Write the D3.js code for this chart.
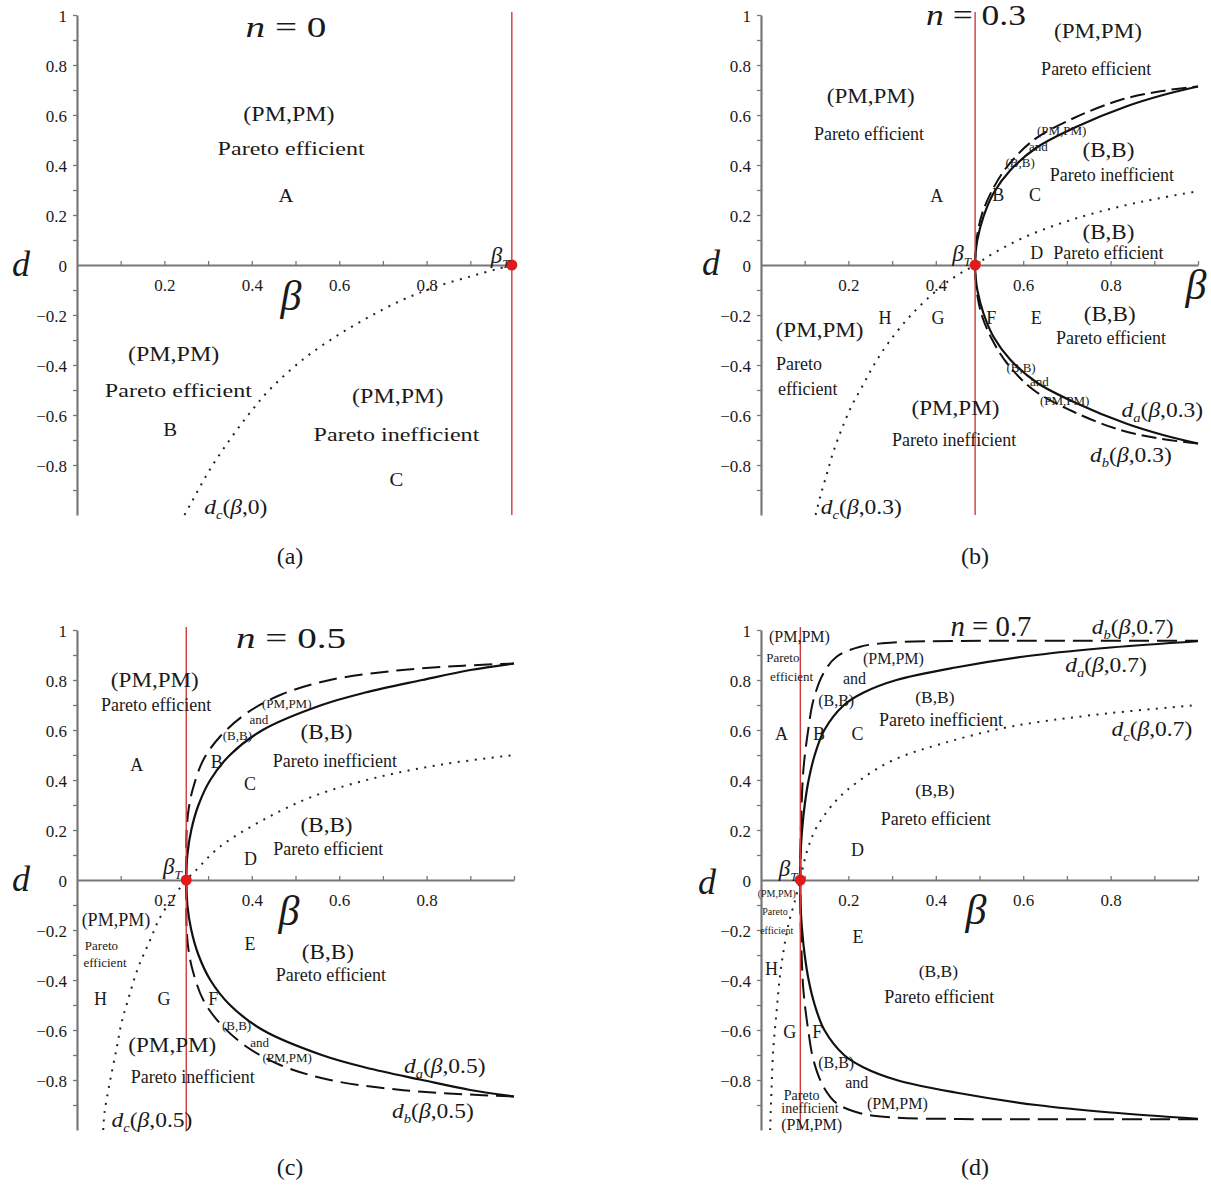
<!DOCTYPE html>
<html><head><meta charset="utf-8">
<script src="https://cdn.jsdelivr.net/npm/d3@7"></script>
<style>
body{margin:0;background:#fff;}
svg text{font-family:"Liberation Serif","Times New Roman",serif;fill:#1a1a1a;}
</style></head><body>
<svg id="chart" width="1211" height="1195"></svg>
<script>
// ---------------- data ----------------
const panelN = [0, 0.3, 0.5, 0.7];
const betaT = [0.995, 0.49, 0.25, 0.09];
const captions = ["(a)", "(b)", "(c)", "(d)"];
const xTickValues = [0.2, 0.4, 0.6, 0.8];
const xMinorTicks = [0.1, 0.2, 0.3, 0.4, 0.5, 0.6, 0.7, 0.8, 0.9, 1.0];
const yTickValues = [-0.8, -0.6, -0.4, -0.2, 0, 0.2, 0.4, 0.6, 0.8, 1];
const yMinorTicks = [-0.9, -0.8, -0.7, -0.6, -0.5, -0.4, -0.3, -0.2, -0.1, 0.1, 0.2, 0.3, 0.4, 0.5, 0.6, 0.7, 0.8, 0.9, 1.0];

// d_c(beta, 0)
const dcN0 = [[0.246,-1.0],[0.263,-0.946],[0.302,-0.824],[0.348,-0.703],[0.394,-0.595],[0.44,-0.5],[0.517,-0.378],[0.594,-0.284],[0.671,-0.205],[0.748,-0.137],[0.825,-0.085],[0.902,-0.045],[0.96,-0.017],[0.995,0]];
// n = 0.3 (upper branches of d_a, d_b; lower branches are their mirror images)
const daN03 = [[0.49,0],[0.4912,0.05],[0.495,0.1],[0.509,0.193],[0.532,0.287],[0.57,0.378],[0.631,0.47],[0.722,0.553],[0.837,0.635],[0.92,0.68],[1.0,0.714]];
const dbN03 = [[0.49,0],[0.4908,0.05],[0.494,0.11],[0.505,0.2],[0.527,0.292],[0.563,0.393],[0.624,0.5],[0.715,0.587],[0.822,0.66],[0.914,0.695],[1.0,0.714]];
const dcN03 = [[0.125,-1.0],[0.135,-0.93],[0.15,-0.84],[0.165,-0.75],[0.185,-0.655],[0.207,-0.565],[0.234,-0.478],[0.26,-0.395],[0.292,-0.31],[0.346,-0.195],[0.41,-0.09],[0.45,-0.04],[0.49,0],[0.53,0.045],[0.608,0.115],[0.722,0.187],[0.837,0.24],[0.92,0.27],[1.0,0.295]];
// n = 0.5
const daN05 = [[0.25,0],[0.2525,0.1],[0.2615,0.2],[0.278,0.3],[0.305,0.4],[0.35,0.5],[0.425,0.6],[0.56,0.7],[0.66,0.75],[0.79,0.8],[0.9,0.84],[1.0,0.866]];
const dbN05 = [[0.25,0],[0.2503,0.1],[0.251,0.2],[0.256,0.29],[0.266,0.37],[0.289,0.48],[0.327,0.573],[0.388,0.667],[0.465,0.74],[0.579,0.8],[0.732,0.838],[0.884,0.857],[1.0,0.866]];
const dcN05 = [[0.06,-1.0],[0.063,-0.93],[0.075,-0.81],[0.091,-0.67],[0.102,-0.57],[0.115,-0.49],[0.14,-0.35],[0.165,-0.25],[0.19,-0.15],[0.22,-0.07],[0.25,0],[0.27,0.035],[0.327,0.133],[0.426,0.24],[0.541,0.335],[0.693,0.413],[0.846,0.465],[1.0,0.5]];
// n = 0.7
const daN07 = [[0.09,0],[0.0905,0.1],[0.094,0.2],[0.1,0.3],[0.109,0.4],[0.123,0.5],[0.145,0.6],[0.19,0.7],[0.235,0.75],[0.31,0.8],[0.445,0.85],[0.63,0.9],[0.8,0.93],[1.0,0.955]];
const dbN07 = [[0.09,0],[0.0903,0.12],[0.092,0.25],[0.097,0.44],[0.108,0.6],[0.12,0.72],[0.143,0.827],[0.173,0.893],[0.227,0.933],[0.303,0.95],[0.455,0.956],[0.7,0.957],[1.0,0.957]];
const dcN07 = [[0.021,-1.0],[0.024,-0.84],[0.028,-0.68],[0.036,-0.52],[0.043,-0.39],[0.051,-0.29],[0.059,-0.21],[0.066,-0.155],[0.075,-0.1],[0.082,-0.055],[0.09,0],[0.097,0.06],[0.108,0.13],[0.127,0.21],[0.173,0.32],[0.227,0.4],[0.303,0.48],[0.417,0.547],[0.57,0.613],[0.76,0.66],[1.0,0.7]];

const daCurves = [null, daN03, daN05, daN07];
const dbCurves = [null, dbN03, dbN05, dbN07];
const dcCurves = [dcN0, dcN03, dcN05, dcN07];

// region annotations: text, beta, d, font size, horizontal stretch
const notesA = [
 ["(PM,PM)",0.485,0.604,20,1.2],["Pareto efficient",0.49,0.464,18.5,1.3],["A",0.478,0.278,18,1.15],
 ["(PM,PM)",0.221,-0.355,20,1.2],["Pareto efficient",0.232,-0.502,18.5,1.3],["B",0.213,-0.66,18,1.15],
 ["(PM,PM)",0.734,-0.525,20,1.2],["Pareto inefficient",0.731,-0.679,18.5,1.3],["C",0.731,-0.858,18,1.15]];
const notesB = [
 ["(PM,PM)",0.771,0.938,21,1.1],["Pareto efficient",0.767,0.786,18,1],
 ["(PM,PM)",0.251,0.678,21,1.1],["Pareto efficient",0.247,0.526,18,1],
 ["(PM,PM)",0.688,0.54,13,1],["and",0.635,0.476,13,1],["(B,B)",0.593,0.409,13,1],
 ["(B,B)",0.795,0.46,21,1.1],["Pareto inefficient",0.803,0.36,18,1],
 ["A",0.402,0.279,18,1],["B",0.543,0.28,18,1],["C",0.627,0.28,18,1],
 ["(B,B)",0.795,0.133,21,1.1],["D",0.631,0.049,18,1],["Pareto efficient",0.795,0.049,18,1],
 ["H",0.284,-0.21,18,1],["G",0.405,-0.21,18,1],["F",0.527,-0.21,18,1],["E",0.63,-0.21,18,1],
 ["(B,B)",0.798,-0.194,21,1.1],["Pareto efficient",0.801,-0.291,18,1],
 ["(PM,PM)",0.134,-0.258,21,1.1],["Pareto",0.087,-0.393,18,1],["efficient",0.107,-0.494,18,1],
 ["(B,B)",0.595,-0.409,13,1],["and",0.637,-0.464,13,1],["(PM,PM)",0.695,-0.541,13,1],
 ["(PM,PM)",0.445,-0.571,21,1.1],["Pareto inefficient",0.442,-0.7,18,1]];
const notesC = [
 ["(PM,PM)",0.178,0.803,21,1.1],["Pareto efficient",0.181,0.702,18,1],
 ["(PM,PM)",0.48,0.707,13,1],["and",0.416,0.643,13,1],["(B,B)",0.367,0.58,13,1],
 ["(B,B)",0.571,0.593,21,1.1],["Pareto inefficient",0.59,0.477,18,1],
 ["A",0.137,0.463,18,1],["B",0.32,0.473,18,1],["C",0.396,0.387,18,1],
 ["(B,B)",0.571,0.22,21,1.1],["Pareto efficient",0.575,0.127,18,1],["D",0.397,0.087,18,1],
 ["(PM,PM)",0.089,-0.16,18,1],["Pareto",0.056,-0.26,13,1],["efficient",0.064,-0.331,13,1],
 ["E",0.396,-0.254,18,1],["(B,B)",0.574,-0.287,21,1.1],["Pareto efficient",0.581,-0.38,18,1],
 ["H",0.054,-0.476,18,1],["G",0.199,-0.476,18,1],["F",0.312,-0.476,18,1],
 ["(B,B)",0.365,-0.58,13,1],["and",0.418,-0.651,13,1],["(PM,PM)",0.481,-0.708,13,1],
 ["(PM,PM)",0.218,-0.658,21,1.1],["Pareto inefficient",0.265,-0.787,18,1]];
const notesD = [
 ["(PM,PM)",0.088,0.973,16,1],["Pareto",0.05,0.891,13,1],["efficient",0.07,0.816,13,1],
 ["(PM,PM)",0.303,0.887,16,1],["and",0.214,0.807,16,1],["(B,B)",0.172,0.72,16,1],
 ["(B,B)",0.398,0.733,17.5,1],["Pareto inefficient",0.412,0.643,18,1],
 ["A",0.047,0.584,18,1],["B",0.133,0.584,18,1],["C",0.221,0.584,18,1],
 ["(B,B)",0.398,0.36,17.5,1],["Pareto efficient",0.4,0.247,18,1],["D",0.221,0.123,18,1],
 ["(PM,PM)",0.036,-0.053,10,1],["Pareto",0.032,-0.127,10,1],["efficient",0.036,-0.2,10,1],
 ["E",0.222,-0.228,18,1],["H",0.024,-0.353,18,1],
 ["(B,B)",0.406,-0.364,17.5,1],["Pareto efficient",0.408,-0.468,18,1],
 ["G",0.066,-0.607,18,1],["F",0.129,-0.607,18,1],
 ["(B,B)",0.172,-0.73,16,1],["and",0.219,-0.811,16,1],["(PM,PM)",0.312,-0.894,16,1],
 ["Pareto",0.093,-0.86,14,1],["inefficient",0.112,-0.913,14,1],["(PM,PM)",0.116,-0.976,16,1]];
const notes = [notesA, notesB, notesC, notesD];

// curve labels: subscript, n argument, beta, d (start of text)
const curveLabels = [
 [["c","0",0.291,-0.967]],
 [["a","0.3",0.825,-0.578],["b","0.3",0.753,-0.758],["c","0.3",0.137,-0.967]],
 [["a","0.5",0.748,-0.744],["b","0.5",0.721,-0.923],["c","0.5",0.079,-0.958]],
 [["b","0.7",0.757,1.012],["a","0.7",0.696,0.86],["c","0.7",0.802,0.607]]];
// beta_T label position (beta, d)
const betaTLabel = [[0.968,0.04],[0.459,0.047],[0.218,0.056],[0.062,0.047]];

// ---------------- layout ----------------
const layout = [
 {x0:77, y0:265, title:[286,37,81], dX:21, dBase:276, bX:291, bBase:310, cap:[290,564]},
 {x0:761, y0:265, title:[976,25,100], dX:711, dBase:275, bX:1196, bBase:299, cap:[975,564]},
 {x0:77, y0:880, title:[291,648,110], dX:21, dBase:891, bX:289, bBase:925, cap:[290,1175]},
 {x0:761, y0:880, title:[991,636,81], dX:707, dBase:894, bX:976, bBase:924, cap:[975,1175]}];
const UX = 437, UY = 250;
const dashStyles = ["15,6","15,6","18,8","20,8"];

const svg = d3.select("#chart");
const fmt = v => v === 0 ? "0" : (v === 1 ? "1" : d3.format(".1f")(v));

layout.forEach((L, i) => {
  const g = svg.append("g");
  const x = d3.scaleLinear().domain([0,1]).range([L.x0, L.x0 + UX]);
  const y = d3.scaleLinear().domain([-1,1]).range([L.y0 + UY, L.y0 - UY]);
  const serif = "Liberation Serif, Times New Roman, serif";

  // axes: minor ticks + lines
  const xa = g.append("g").attr("transform", `translate(0,${y(0)})`)
    .call(d3.axisBottom(x).tickValues(xMinorTicks).tickSize(-4).tickSizeOuter(0).tickFormat(""));
  const ya = g.append("g").attr("transform", `translate(${x(0)},0)`)
    .call(d3.axisLeft(y).tickValues(yMinorTicks).tickSize(4).tickSizeOuter(0).tickFormat(""));
  [xa, ya].forEach(a => { a.selectAll("path,line").attr("stroke", "#777").attr("stroke-width", 1.3);
                          a.select(".domain").attr("stroke-width", 2.2); });
  // tick labels
  const xl = g.append("g").attr("transform", `translate(0,${y(0)})`)
    .call(d3.axisBottom(x).tickValues(xTickValues).tickSize(0).tickFormat(fmt));
  xl.select(".domain").remove();
  xl.attr("font-size", 17).attr("font-family", serif).attr("color", "#222");
  xl.selectAll("text").attr("y", 26).attr("dy", 0);
  const yl = g.append("g").attr("transform", `translate(${x(0)},0)`)
    .call(d3.axisLeft(y).tickValues(yTickValues).tickSize(0).tickPadding(10).tickFormat(fmt));
  yl.select(".domain").remove();
  yl.attr("font-size", 17).attr("font-family", serif).attr("color", "#222");
  yl.selectAll("text").attr("dy", "0.36em");

  // curves
  const line = d3.line().x(p => x(p[0])).y(p => y(p[1])).curve(d3.curveCatmullRom.alpha(0.5));
  const mirror = arr => arr.slice(1).map(p => [p[0], -p[1]]).reverse().concat(arr);
  if (dbCurves[i]) g.append("path").attr("d", line(mirror(dbCurves[i]))).attr("fill","none")
      .attr("stroke","#111").attr("stroke-width",2).attr("stroke-dasharray", dashStyles[i]);
  if (daCurves[i]) g.append("path").attr("d", line(mirror(daCurves[i]))).attr("fill","none")
      .attr("stroke","#111").attr("stroke-width",2.2);
  g.append("path").attr("d", line(dcCurves[i])).attr("fill","none")
      .attr("stroke","#222").attr("stroke-width",2).attr("stroke-dasharray","2,6.5");

  // red beta_T line + dot
  g.append("line").attr("x1", x(betaT[i])).attr("x2", x(betaT[i]))
    .attr("y1", y(1.012)).attr("y2", y(-1)).attr("stroke", "#d23a3a").attr("stroke-width", 1.4);
  g.append("circle").attr("cx", x(betaT[i])).attr("cy", y(0)).attr("r", 5.5).attr("fill", "#e31a1c");

  // region annotations
  notes[i].forEach(([t, b, d, fs, sx]) => {
    g.append("text").attr("transform", `translate(${x(b)},${y(d)}) scale(${sx},1)`)
      .attr("text-anchor","middle").attr("dy","0.35em").attr("font-size", fs).text(t);
  });

  // curve labels d_x(beta, n)
  curveLabels[i].forEach(([sub, arg, b, d]) => {
    const t = g.append("text").attr("transform", `translate(${x(b)},${y(d)}) scale(1.12,1)`)
      .attr("dy","0.35em").attr("font-size", 21);
    t.append("tspan").attr("font-style","italic").text("d");
    t.append("tspan").attr("font-style","italic").attr("font-size", 13).attr("dy", 5).text(sub);
    t.append("tspan").attr("dy", -5).text("(");
    t.append("tspan").attr("font-style","italic").text("β");
    t.append("tspan").text("," + arg + ")");
  });

  // beta_T label
  const bt = g.append("text").attr("x", x(betaTLabel[i][0])).attr("y", y(betaTLabel[i][1]))
    .attr("text-anchor","middle").attr("dy","0.35em").attr("font-size", 23);
  bt.append("tspan").attr("font-style","italic").text("β");
  bt.append("tspan").attr("font-style","italic").attr("font-size", 13).attr("dy", 5).text("T");

  // axis names
  g.append("text").attr("x", L.dX).attr("y", L.dBase).attr("text-anchor","middle")
    .attr("font-style","italic").attr("font-size", 36).text("d");
  g.append("text").attr("x", L.bX).attr("y", L.bBase).attr("text-anchor","middle")
    .attr("font-style","italic").attr("font-size", 42).text("β");

  // title n = ...
  const [tx, tb, tw] = L.title;
  const tt = g.append("text").attr("x", tx).attr("y", tb).attr("text-anchor","middle").attr("font-size", 30);
  tt.append("tspan").attr("font-style","italic").text("n");
  tt.append("tspan").text(" = " + panelN[i]);
  const w = tt.node().getComputedTextLength();
  tt.attr("transform", `translate(${tx},0) scale(${tw / w},1) translate(${-tx},0)`);

  // caption
  g.append("text").attr("x", L.cap[0]).attr("y", L.cap[1]).attr("text-anchor","middle")
    .attr("font-size", 24).text(captions[i]);
});
</script>
</body></html>
